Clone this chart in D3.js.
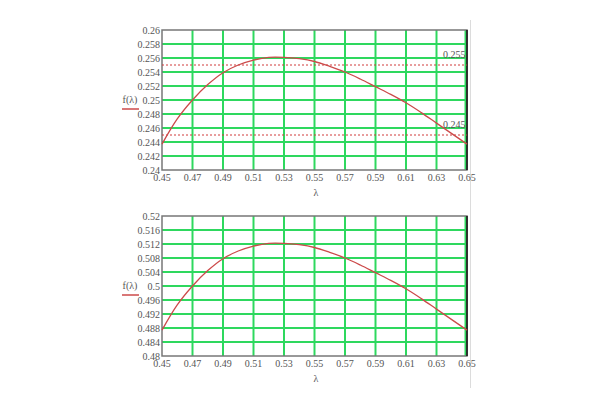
<!DOCTYPE html>
<html>
<head>
<meta charset="utf-8">
<script src="https://cdn.jsdelivr.net/npm/d3@7"></script>
<style>
  body { margin: 0; background: #fff; }
  svg text { font-family: "Liberation Serif", "DejaVu Serif", serif; fill: #555; }
</style>
</head>
<body>
<div id="chart"></div>
<script>
// lambda values
const lambda = [0.45, 0.46, 0.47, 0.48, 0.49, 0.50, 0.51, 0.52, 0.53, 0.54, 0.55, 0.56, 0.57, 0.58, 0.59, 0.60, 0.61, 0.62, 0.63, 0.64, 0.65]
// top plot f(lambda)
const fTop = [0.2437, 0.2473, 0.2500, 0.2522, 0.2539, 0.2550, 0.2557, 0.2561, 0.2561, 0.2559, 0.2555, 0.2548, 0.2540, 0.2530, 0.2519, 0.2508, 0.2496, 0.2482, 0.2467, 0.2452, 0.2437]
// bottom plot f(lambda)
const fBottom = [0.4874, 0.4946, 0.5000, 0.5044, 0.5078, 0.5100, 0.5114, 0.5122, 0.5122, 0.5118, 0.5110, 0.5096, 0.5080, 0.5060, 0.5038, 0.5016, 0.4992, 0.4964, 0.4934, 0.4904, 0.4874]

const xTicks = [0.45, 0.47, 0.49, 0.51, 0.53, 0.55, 0.57, 0.59, 0.61, 0.63, 0.65]
const yTicksTop = [0.24, 0.242, 0.244, 0.246, 0.248, 0.25, 0.252, 0.254, 0.256, 0.258, 0.26]
const yTicksBottom = [0.48, 0.484, 0.488, 0.492, 0.496, 0.5, 0.504, 0.508, 0.512, 0.516, 0.52]
const markers = [0.255, 0.245]   // dotted lines on the top plot

const w = 600, h = 400
const svg = d3.select('#chart').append('svg').attr('width', w).attr('height', h)

// faint vertical separator on the right
svg.append('line').attr('x1', 470.5).attr('x2', 470.5).attr('y1', 20).attr('y2', 388)
  .attr('stroke', '#dcdcdc').attr('stroke-width', 1)

function drawPlot(top, values, yTicks, marks) {
  const bottom = top + 140
  const x = d3.scaleLinear().domain([0.45, 0.65]).range([162, 467])
  const y = d3.scaleLinear().domain([yTicks[0], yTicks[yTicks.length - 1]]).range([bottom, top])
  const g = svg.append('g')

  // grid
  g.selectAll('.vg').data(xTicks.slice(1, -1)).enter().append('line')
    .attr('x1', d => x(d)).attr('x2', d => x(d)).attr('y1', top).attr('y2', bottom)
    .attr('stroke', '#2ed85e').attr('stroke-width', 2)
  g.selectAll('.hg').data(yTicks.slice(1, -1)).enter().append('line')
    .attr('x1', 162).attr('x2', 467).attr('y1', d => y(d)).attr('y2', d => y(d))
    .attr('stroke', '#2ed85e').attr('stroke-width', 2)
  // right edge: green + dark
  g.append('line').attr('x1', 465.5).attr('x2', 465.5).attr('y1', top).attr('y2', bottom)
    .attr('stroke', '#2ed85e').attr('stroke-width', 2)

  // frame
  g.append('rect').attr('x', 162).attr('y', top).attr('width', 305).attr('height', 140)
    .attr('fill', 'none').attr('stroke', '#777').attr('stroke-width', 1.5)
  g.append('line').attr('x1', 467).attr('x2', 467).attr('y1', top).attr('y2', bottom)
    .attr('stroke', '#111').attr('stroke-width', 1.5)

  // dotted marker lines
  marks.forEach(m => {
    g.append('line').attr('x1', 162).attr('x2', 467).attr('y1', y(m)).attr('y2', y(m))
      .attr('stroke', '#d03a3a').attr('stroke-width', 1).attr('stroke-dasharray', '2,2')
    g.append('text').attr('x', 443).attr('y', y(m) - 7).attr('font-size', 10).text(m)
  })

  // curve
  const line = d3.line().x((d, i) => x(lambda[i])).y(d => y(d)).curve(d3.curveCatmullRom)
  g.append('path').datum(values).attr('d', line)
    .attr('fill', 'none').attr('stroke', '#cc4a4a').attr('stroke-width', 1.3)

  // tick labels
  g.selectAll('.xt').data(xTicks).enter().append('text')
    .attr('x', d => x(d)).attr('y', bottom + 11).attr('text-anchor', 'middle')
    .attr('font-size', 10).text(d => d)
  g.selectAll('.yt').data(yTicks).enter().append('text')
    .attr('x', 160).attr('y', d => y(d) + 3.5).attr('text-anchor', 'end')
    .attr('font-size', 10).text(d => d)

  // axis labels
  g.append('text').attr('x', 316).attr('y', bottom + 26).attr('text-anchor', 'middle')
    .attr('font-size', 10).text('λ')
  const mid = (top + bottom) / 2
  g.append('text').attr('x', 130).attr('y', mid + 3).attr('text-anchor', 'middle')
    .attr('font-size', 10).text('f(λ)')
  g.append('line').attr('x1', 122).attr('x2', 139).attr('y1', mid + 9).attr('y2', mid + 9)
    .attr('stroke', '#cc4a4a').attr('stroke-width', 1.5)
}

drawPlot(30, fTop, yTicksTop, markers)
drawPlot(216, fBottom, yTicksBottom, [])
</script>
</body>
</html>
